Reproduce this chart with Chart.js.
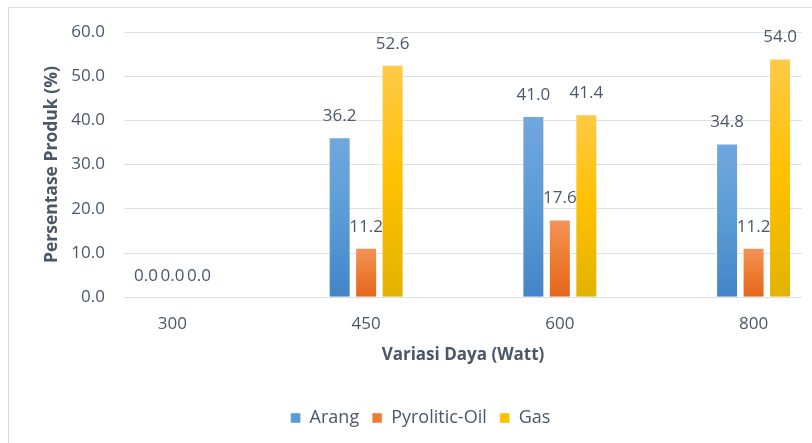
<!DOCTYPE html>
<html>
<head>
<meta charset="utf-8">
<script src="https://cdn.jsdelivr.net/npm/chart.js@4"></script>
<style>
  html, body { margin: 0; padding: 0; background: #fff; overflow: hidden; }
  #box {
    position: absolute;
    left: 8px;
    top: 7px;
    width: 826px;
    height: 470px;
    border: 1px solid #d9dde3;
    background: #fff;
  }
</style>
</head>
<body>
<div id="box"><canvas id="chart" width="826" height="470"></canvas></div>
<script>
// power levels (Watt) and product share (%) per product
const dayaLabels = ["300", "450", "600", "800"];
const arang = [0.0, 36.2, 41.0, 34.8];
const pyroliticOil = [0.0, 11.2, 17.6, 11.2];
const gas = [0.0, 52.6, 41.4, 54.0];

const textColor = "#4b5769";
const fontFamily = "'Open Sans', sans-serif";

// top / bottom shade of each bar fill
const shades = {
    arang: ["#72a7de", "#4285c8", "#5b9bd5"],
    oil: ["#f4935b", "#e5661d", "#ed7d31"],
    gas: ["#ffca48", "#e2b300", "#ffc000"]
};

function barFill(shade) {
    return function (ctx) {
        const chart = ctx.chart;
        if (ctx.type !== "data" || !chart.chartArea || !ctx.parsed) {
            return shade[2];
        }
        const yScale = chart.scales.y;
        const top = yScale.getPixelForValue(ctx.parsed.y);
        const bottom = yScale.getPixelForValue(0);
        if (bottom - top < 1) return shade[2];
        const g = chart.ctx.createLinearGradient(0, top, 0, bottom);
        g.addColorStop(0, shade[0]);
        g.addColorStop(0.5, shade[2]);
        g.addColorStop(1, shade[1]);
        return g;
    };
}

function toPoints(values) {
    return values.map((v, i) => ({ x: i, y: v }));
}

// value printed above each bar
const valueLabels = {
    id: "valueLabels",
    afterDatasetsDraw(chart) {
        const ctx = chart.ctx;
        ctx.save();
        ctx.font = "17px " + fontFamily;
        ctx.fillStyle = textColor;
        ctx.textAlign = "center";
        ctx.textBaseline = "middle";
        chart.data.datasets.forEach((ds, i) => {
            chart.getDatasetMeta(i).data.forEach((bar, j) => {
                ctx.fillText(ds.data[j].y.toFixed(1), bar.x, bar.y - 21);
            });
        });
        ctx.restore();
    }
};

new Chart(document.getElementById("chart"), {
    type: "bar",
    data: {
        datasets: [
            {
                label: "Arang",
                data: toPoints(arang),
                backgroundColor: barFill(shades.arang),
                borderColor: "rgba(255,255,255,0.45)",
                borderWidth: 1
            },
            {
                label: "Pyrolitic-Oil",
                data: toPoints(pyroliticOil),
                backgroundColor: barFill(shades.oil),
                borderColor: "rgba(255,255,255,0.45)",
                borderWidth: 1
            },
            {
                label: "Gas",
                data: toPoints(gas),
                backgroundColor: barFill(shades.gas),
                borderColor: "rgba(255,255,255,0.45)",
                borderWidth: 1
            }
        ]
    },
    options: {
        responsive: false,
        animation: false,
        categoryPercentage: 0.41,
        barPercentage: 0.83,
        layout: {
            padding: { left: 30, right: 33, top: 24, bottom: 41 }
        },
        plugins: {
            tooltip: { enabled: false },
            legend: {
                position: "bottom",
                labels: {
                    boxWidth: 10,
                    boxHeight: 10,
                    padding: 13,
                    color: textColor,
                    font: { family: fontFamily, size: 18 }
                }
            }
        },
        scales: {
            x: {
                type: "linear",
                min: -0.25,
                max: 3.25,
                offset: false,
                afterBuildTicks(axis) {
                    axis.ticks = dayaLabels.map((d, i) => ({ value: i }));
                },
                grid: { display: false, drawTicks: false },
                border: { display: false },
                ticks: {
                    padding: 17,
                    color: textColor,
                    font: { family: fontFamily, size: 17 },
                    callback: (v) => dayaLabels[v]
                },
                title: {
                    display: true,
                    text: "Variasi Daya (Watt)",
                    color: textColor,
                    font: { family: fontFamily, size: 17, weight: "bold" },
                    padding: { top: -7, bottom: 31 }
                }
            },
            y: {
                min: 0,
                max: 60,
                afterFit(axis) {
                    axis.width = 85;
                },
                // invisible tick marks keep the labels away from the plot
                grid: {
                    color: "#dde1e6",
                    lineWidth: 1,
                    drawTicks: true,
                    tickLength: 19,
                    tickColor: "rgba(0,0,0,0)"
                },
                border: { display: false },
                ticks: {
                    stepSize: 10,
                    padding: 0,
                    color: textColor,
                    font: { family: fontFamily, size: 17 },
                    callback: (v) => v.toFixed(1)
                },
                title: {
                    display: true,
                    text: "Persentase Produk (%)",
                    color: textColor,
                    font: { family: fontFamily, size: 17.5, weight: "bold" },
                    padding: { top: 3, bottom: 0 }
                }
            }
        }
    },
    plugins: [valueLabels]
});
</script>
</body>
</html>
